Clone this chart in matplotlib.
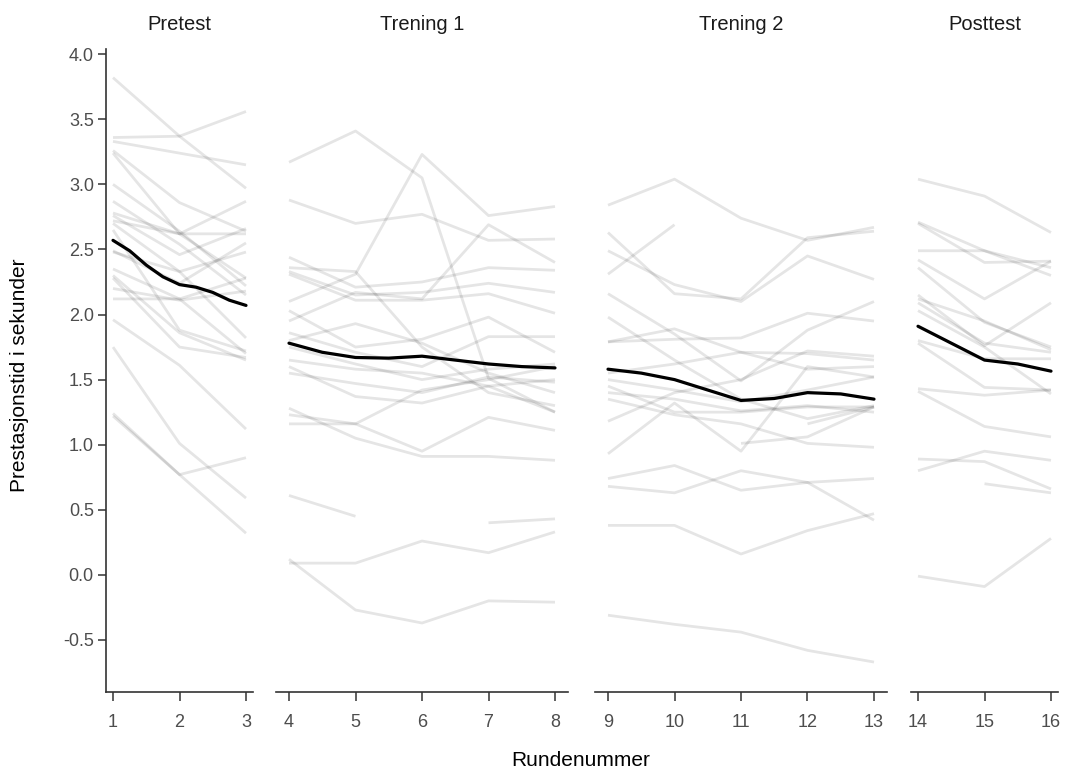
import matplotlib
matplotlib.use('Agg')
import matplotlib.pyplot as plt
import numpy as np

nan = np.nan
plt.rcParams['font.family'] = ['Liberation Sans', 'DejaVu Sans']

facet_titles = ['Pretest', 'Trening 1', 'Trening 2', 'Posttest']
facet_rounds = [[1, 2, 3], [4, 5, 6, 7, 8], [9, 10, 11, 12, 13], [14, 15, 16]]

# one row per participant
pretest = [
    [3.82, 3.37, 2.97], [3.36, 3.37, 3.56], [3.33, 3.24, 3.15],
    [3.26, 2.86, 2.64], [3.24, 2.62, 2.28], [3.00, 2.64, 2.22],
    [2.87, 2.54, 2.15], [2.78, 2.62, 2.87], [2.76, 2.46, 2.66],
    [2.72, 2.62, 2.62], [2.70, 2.33, 1.82], [2.65, 1.88, 1.72],
    [2.49, 2.24, 2.55], [2.48, 2.33, 2.48], [2.35, 2.12, 1.70],
    [2.30, 1.86, 1.65], [2.28, 1.75, 1.67], [2.20, 2.11, 2.18],
    [2.12, 2.12, 2.28], [1.96, 1.61, 1.12], [1.75, 1.01, 0.59],
    [1.24, 0.77, 0.90], [1.22, 0.77, 0.32],
]
trening1 = [
    [3.17, 3.41, 3.05, 1.51, 1.25], [2.10, 2.31, 3.23, 2.76, 2.83],
    [2.88, 2.70, 2.77, 2.57, 2.58], [2.44, 2.21, 2.25, 2.36, 2.34],
    [2.33, 2.15, 2.17, 2.24, 2.17], [2.31, 2.11, 2.11, 2.16, 2.01],
    [2.36, 2.33, 1.75, 1.40, 1.30], [1.95, 2.17, 2.12, 2.69, 2.40],
    [2.03, 1.75, 1.81, 1.98, 1.71], [1.86, 1.71, 1.60, 1.83, 1.83],
    [1.80, 1.93, 1.78, 1.55, 1.40], [1.65, 1.58, 1.55, 1.45, 1.50],
    [1.55, 1.47, 1.40, 1.52, 1.48], [1.28, 1.05, 0.91, 0.91, 0.88],
    [1.23, 1.16, 0.95, 1.21, 1.11], [1.16, 1.16, 1.42, 1.50, 1.60],
    [1.60, 1.37, 1.32, 1.45, 1.25], [0.61, 0.45, nan, 0.40, 0.43],
    [0.09, 0.09, 0.26, 0.17, 0.33], [0.12, -0.27, -0.37, -0.20, -0.21],
    [1.75, 1.62, 1.50, 1.58, 1.62],
]
trening2 = [
    [2.84, 3.04, 2.74, 2.57, 2.67], [2.31, 2.69, nan, nan, nan],
    [2.63, 2.16, 2.12, 2.59, 2.64], [2.49, 2.23, 2.10, 2.45, 2.27],
    [2.16, 1.85, 1.49, 1.88, 2.10], [1.98, 1.65, 1.35, 1.20, 1.30],
    [1.79, 1.81, 1.82, 2.01, 1.95], [1.79, 1.89, 1.71, 1.58, 1.60],
    [1.55, 1.62, 1.71, 1.70, 1.65], [1.50, 1.42, 1.33, 1.42, 1.52],
    [1.40, 1.35, 1.26, 1.30, 1.25], [1.18, 1.40, 1.50, 1.72, 1.68],
    [0.93, 1.32, 0.95, 1.60, 1.52], [1.45, 1.25, 1.25, 1.29, 1.29],
    [1.35, 1.23, 1.16, 1.01, 0.98], [nan, nan, 1.01, 1.06, 1.29],
    [nan, nan, nan, 1.16, 1.29], [0.74, 0.84, 0.65, 0.71, 0.74],
    [0.68, 0.63, 0.80, 0.71, 0.42], [0.38, 0.38, 0.16, 0.34, 0.47],
    [-0.31, -0.38, -0.44, -0.58, -0.67],
]
posttest = [
    [3.04, 2.91, 2.63], [2.71, 2.49, 2.36], [2.70, 2.40, 2.41],
    [2.49, 2.49, 2.30], [2.42, 2.12, 2.41], [2.36, 1.94, 1.75],
    [2.15, 1.76, 2.09], [2.12, 1.95, 1.73], [2.09, 1.78, 1.71],
    [2.03, 1.75, 1.39], [1.80, 1.66, 1.66], [1.78, 1.44, 1.42],
    [1.43, 1.38, 1.42], [1.41, 1.14, 1.06], [0.89, 0.87, 0.66],
    [0.80, 0.95, 0.88], [nan, 0.70, 0.63], [-0.01, -0.09, 0.28],
]

# smoothed mean curve, read at quarter/half rounds
mean_x = [
    [1, 1.25, 1.5, 1.75, 2, 2.25, 2.5, 2.75, 3],
    [4, 4.5, 5, 5.5, 6, 6.5, 7, 7.5, 8],
    [9, 9.5, 10, 10.5, 11, 11.5, 12, 12.5, 13],
    [14, 14.5, 15, 15.5, 16],
]
mean_y = [
    [2.57, 2.49, 2.38, 2.29, 2.23, 2.21, 2.17, 2.11, 2.07],
    [1.78, 1.71, 1.67, 1.665, 1.68, 1.65, 1.62, 1.60, 1.59],
    [1.58, 1.55, 1.50, 1.42, 1.34, 1.355, 1.40, 1.39, 1.35],
    [1.91, 1.78, 1.65, 1.62, 1.565],
]
facet_data = [pretest, trening1, trening2, posttest]

W, H = 1065, 771
fig = plt.figure(figsize=(W / 100, H / 100), dpi=100)

px_per_unit = 66.5
lefts = [106.35, 275.7, 594.7, 911.35]
top_px, bottom_px = 49, 692
ylim = (-0.9, 4.04)
ax_col = '#333333'
lab_col = '#4d4d4d'

for i, rounds in enumerate(facet_rounds):
    pad = 0.05 * (rounds[-1] - rounds[0])
    lo, hi = rounds[0] - pad, rounds[-1] + pad
    w = (hi - lo) * px_per_unit
    ax = fig.add_axes([lefts[i] / W, 1 - bottom_px / H, w / W, (bottom_px - top_px) / H])
    for row in facet_data[i]:
        ax.plot(rounds, row, color='black', alpha=0.1, lw=2.0, solid_capstyle='butt')
    ax.plot(mean_x[i], mean_y[i], color='black', lw=2.3, solid_capstyle='round')
    ax.set_xlim(lo, hi)
    ax.set_ylim(*ylim)
    ax.set_xticks(rounds)
    ax.set_title(facet_titles[i], fontsize=14.5, color='#1a1a1a', pad=14)
    for s in ['top', 'right']:
        ax.spines[s].set_visible(False)
    ax.spines['bottom'].set_linewidth(1.2)
    ax.spines['bottom'].set_color(ax_col)
    ax.tick_params(axis='x', length=6.5, width=1.1, color=ax_col,
                   labelsize=13, labelcolor=lab_col, pad=9)
    if i == 0:
        yt = np.arange(-0.5, 4.01, 0.5)
        ax.spines['left'].set_linewidth(1.2)
        ax.spines['left'].set_color(ax_col)
        ax.set_yticks(yt)
        ax.set_yticklabels([f'{v:.1f}' for v in yt])
        ax.tick_params(axis='y', length=6, width=1.1, color=ax_col,
                       labelsize=13, labelcolor=lab_col, pad=3)
    else:
        ax.spines['left'].set_visible(False)
        ax.set_yticks([])

fig.text(581 / W, 1 - 760 / H, 'Rundenummer', ha='center', va='center', fontsize=15)
fig.text(20 / W, 1 - 375 / H, 'Prestasjonstid i sekunder', ha='center', va='center',
         rotation=90, fontsize=15)

fig.savefig('out.png', dpi=100)
